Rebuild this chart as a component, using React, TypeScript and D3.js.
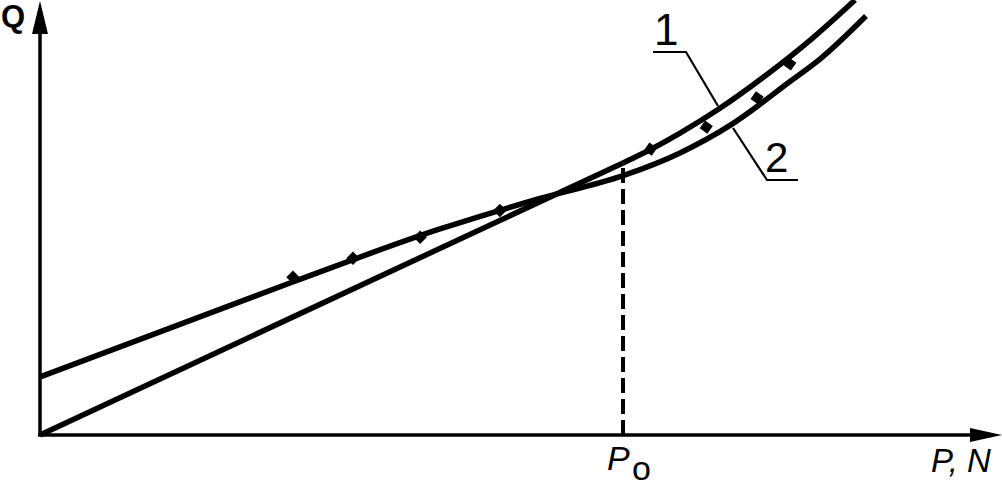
import React from "react";
import * as d3 from "d3";

// Curve 1: straight line from origin to P0, then rising curve
const curve1P = [0, 6.073, 6.25, 6.667, 7.063, 7.552, 8.042, 8.49];
const curve1Q = [0, 6.326, 6.516, 7.023, 7.57, 8.349, 9.219, 10.116];

// Curve 2: starts at an intercept, crosses curve 1 and stays below it later
const curve2P = [0, 2.604, 4.167, 5.208, 6.073, 6.667, 7.188, 7.833, 8.125, 8.604];
const curve2Q = [1.349, 3.535, 4.791, 5.5, 6.03, 6.56, 7.2, 8.256, 8.744, 9.744];

// Measured points
const markP = [2.635, 3.26, 3.96, 4.79, 6.36, 6.94, 7.47, 7.81];
const markQ = [3.67, 4.11, 4.6, 5.22, 6.65, 7.16, 7.84, 8.63];

const P0 = 6.073;
const Q0 = 6.326;

const W = 1002;
const H = 487;

export default function App() {
  const x = d3.scaleLinear().domain([0, 10]).range([40, 1000]);
  const y = d3.scaleLinear().domain([0, 10]).range([435, 5]);

  const line = d3
    .line<[number, number]>()
    .x((d) => x(d[0]))
    .y((d) => y(d[1]))
    .curve(d3.curveMonotoneX);

  const straight = d3
    .line<[number, number]>()
    .x((d) => x(d[0]))
    .y((d) => y(d[1]));

  const c1: [number, number][] = curve1P.map((p, i) => [p, curve1Q[i]]);
  const c1Line = c1.slice(0, 2);
  const c1Curve = c1.slice(1);
  const c2: [number, number][] = curve2P.map((p, i) => [p, curve2Q[i]]);

  const sq = d3.symbol().type(d3.symbolSquare).size(90)() as string;

  const x0 = x(0);
  const y0 = y(0);
  const font = "'Liberation Sans', Arial, sans-serif";

  return (
    <svg
      width={W}
      height={H}
      style={{ position: "absolute", left: 0, top: 0, background: "#fff" }}
    >
      {/* axes */}
      <line x1={x0} y1={y0} x2={x0} y2={30} stroke="#000" strokeWidth={3.5} />
      <path d={`M${x0},1 L${x0 - 8},34 L${x0 + 8},34 Z`} fill="#000" />
      <line x1={x0 - 2} y1={y0} x2={975} y2={y0} stroke="#000" strokeWidth={3.5} />
      <path d={`M1002,${y0} L970,${y0 - 7} L970,${y0 + 7} Z`} fill="#000" />

      {/* P0 dashed */}
      <line
        x1={x(P0)}
        y1={y0}
        x2={x(P0)}
        y2={y(Q0)}
        stroke="#000"
        strokeWidth={4}
        strokeDasharray="15,6"
      />

      {/* curves */}
      <path d={straight(c1Line) as string} fill="none" stroke="#000" strokeWidth={5.5} />
      <path d={line(c1Curve) as string} fill="none" stroke="#000" strokeWidth={5.5} />
      <path d={line(c2) as string} fill="none" stroke="#000" strokeWidth={5.5} />

      {/* markers */}
      {markP.map((p, i) => (
        <path
          key={i}
          d={sq}
          transform={`translate(${x(p)},${y(markQ[i])}) rotate(${i < 4 ? 45 : 35})`}
          fill="#000"
        />
      ))}

      {/* callouts */}
      <text x={654} y={45} fontFamily={font} fontSize={44} fill="#000">1</text>
      <polyline points="653,52 686,52 718,106" fill="none" stroke="#000" strokeWidth={2.2} />
      <text x={765} y={172} fontFamily={font} fontSize={42} fill="#000">2</text>
      <polyline points="798,180 767,180 733,128" fill="none" stroke="#000" strokeWidth={2.2} />

      {/* labels */}
      <text x={1} y={27} fontFamily={font} fontSize={31} fontWeight="bold" fill="#000">Q</text>
      <text x={931} y={472} fontFamily={font} fontSize={33} fontStyle="italic" fill="#000">P, N</text>
      <text x={607} y={470} fontFamily={font} fontSize={34} fontStyle="italic" fill="#000">P</text>
      <text x={632} y={480} fontFamily={font} fontSize={34} fill="#000">o</text>
    </svg>
  );
}
